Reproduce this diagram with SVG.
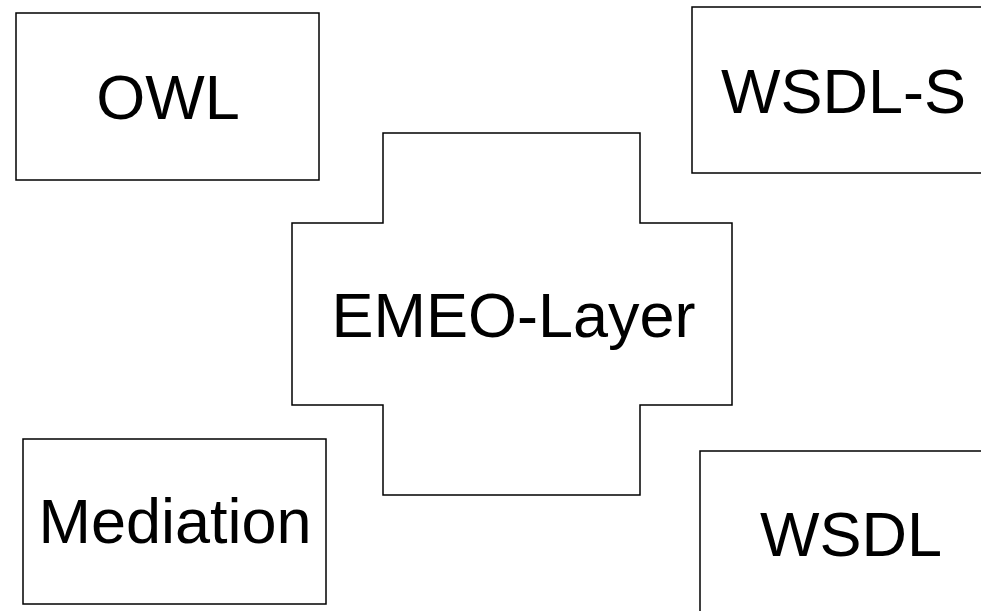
<svg xmlns="http://www.w3.org/2000/svg" width="981" height="611" viewBox="0 0 981 611">
<style>
.box{fill:#fff;stroke:#000;stroke-width:1.5}
.lbl{font-family:"Liberation Sans",Arial,sans-serif;font-size:63px;fill:#000;text-anchor:middle}
</style>
<rect width="981" height="611" fill="#fff"/>
<g id="owl"><rect class="box" x="16" y="13" width="303" height="167"/><text class="lbl" x="168" y="119">OWL</text></g>
<g id="wsdl-s"><rect class="box" x="692" y="7" width="310" height="166"/><text class="lbl" x="843.5" y="113">WSDL-S</text></g>
<g id="emeo"><path class="box" d="M383,133 H640 V223 H732 V405 H640 V495 H383 V405 H292 V223 H383 Z"/><text class="lbl" x="513.5" y="337">EMEO-Layer</text></g>
<g id="mediation"><rect class="box" x="23" y="439" width="303" height="165"/><text class="lbl" x="175" y="543">Mediation</text></g>
<g id="wsdl"><rect class="box" x="700" y="451" width="310" height="180"/><text class="lbl" x="851" y="556">WSDL</text></g>
<g id="connectors"/>
</svg>
